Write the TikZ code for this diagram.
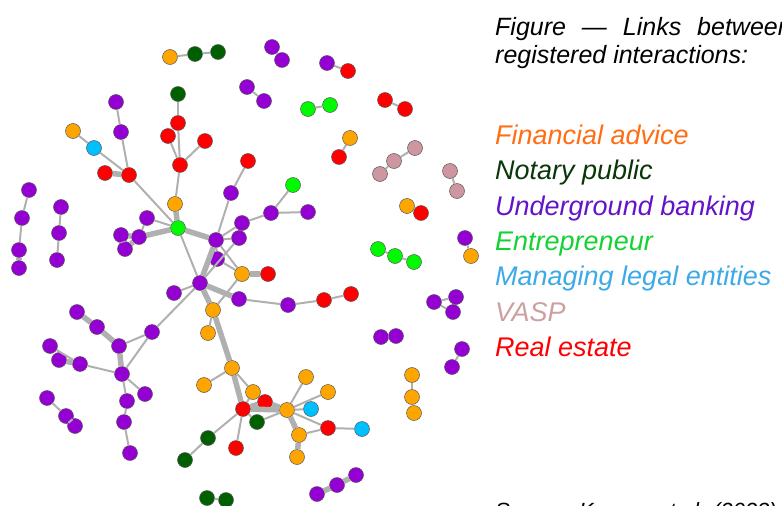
\documentclass[tikz,border=0pt]{standalone}
\usepackage{fontspec}
\usepackage{tikz}
\usetikzlibrary{shapes, positioning}
\newfontfamily\legendfont{Liberation Sans}

\definecolor{finOrange}{RGB}{255,165,0}
\definecolor{notGreen}{RGB}{0,95,0}
\definecolor{ubPurple}{RGB}{148,0,211}
\definecolor{entGreen}{RGB}{0,250,0}
\definecolor{manCyan}{RGB}{0,191,255}
\definecolor{vaspPink}{RGB}{205,150,160}
\definecolor{realRed}{RGB}{255,0,0}
\definecolor{finText}{RGB}{255,110,20}
\definecolor{notText}{RGB}{10,55,10}
\definecolor{ubText}{RGB}{100,20,200}
\definecolor{entText}{RGB}{20,210,50}
\definecolor{manText}{RGB}{60,170,230}
\definecolor{vaspText}{RGB}{205,160,160}
\definecolor{linkGray}{RGB}{176,176,176}

\begin{document}
\begin{tikzpicture}[x=1pt, y=-1pt,
    actor/.style={circle, draw=black!65, line width=0.5pt, minimum size=15pt, inner sep=0pt},
    fin/.style={actor, fill=finOrange},
    nota/.style={actor, fill=notGreen},
    ub/.style={actor, fill=ubPurple},
    ent/.style={actor, fill=entGreen},
    man/.style={actor, fill=manCyan},
    vasp/.style={actor, fill=vaspPink},
    real/.style={actor, fill=realRed},
    every edge/.style={draw=linkGray, line width=2pt},
    heavy/.style={line width=5.5pt},
    legend/.style={anchor=base west, inner sep=0pt, font=\legendfont\itshape\fontsize{27}{32}\selectfont}]
    \useasboundingbox (0,0) rectangle (782,506);

    % financial advice
    \node[fin] (Fin1)  at (170,57)  {};
    \node[fin] (Fin2)  at (350,138) {};
    \node[fin] (Fin3)  at (175,204) {};
    \node[fin] (Fin4)  at (407,206) {};
    \node[fin] (Fin5)  at (471,256) {};
    \node[fin] (Fin6)  at (242,274) {};
    \node[fin] (Fin7)  at (213,310) {};
    \node[fin] (Fin8)  at (208,333) {};
    \node[fin] (Fin9)  at (232,368) {};
    \node[fin] (Fin10) at (204,385) {};
    \node[fin] (Fin11) at (253,392) {};
    \node[fin] (Fin12) at (306,377) {};
    \node[fin] (Fin13) at (328,392) {};
    \node[fin] (Fin14) at (287,410) {};
    \node[fin] (Fin15) at (299,435) {};
    \node[fin] (Fin16) at (297,457) {};
    \node[fin] (Fin17) at (412,375) {};
    \node[fin] (Fin18) at (412,397) {};
    \node[fin] (Fin19) at (414,413) {};
    \node[fin] (Fin20) at (73,131)  {};

    % notary public
    \node[nota] (Not1) at (195,54)  {};
    \node[nota] (Not2) at (218,52)  {};
    \node[nota] (Not3) at (178,94)  {};
    \node[nota] (Not4) at (257,422) {};
    \node[nota] (Not5) at (208,438) {};
    \node[nota] (Not6) at (185,460) {};
    \node[nota] (Not7) at (207,498) {};
    \node[nota] (Not8) at (226,500) {};

    % underground banking
    \node[ub] (Und1)  at (272,47)  {};
    \node[ub] (Und2)  at (282,60)  {};
    \node[ub] (Und3)  at (327,63)  {};
    \node[ub] (Und4)  at (247,87)  {};
    \node[ub] (Und5)  at (264,101) {};
    \node[ub] (Und6)  at (116,102) {};
    \node[ub] (Und7)  at (121,132) {};
    \node[ub] (Und8)  at (29,190)  {};
    \node[ub] (Und9)  at (22,218)  {};
    \node[ub] (Und10) at (19,250)  {};
    \node[ub] (Und11) at (19,268)  {};
    \node[ub] (Und12) at (61,207)  {};
    \node[ub] (Und13) at (59,233)  {};
    \node[ub] (Und14) at (57,260)  {};
    \node[ub] (Und15) at (147,218) {};
    \node[ub] (Und16) at (121,235) {};
    \node[ub] (Und17) at (139,237) {};
    \node[ub] (Und18) at (125,249) {};
    \node[ub] (Und19) at (231,193) {};
    \node[ub] (Und20) at (242,223) {};
    \node[ub] (Und21) at (216,240) {};
    \node[ub] (Und22) at (239,238) {};
    \node[ub] (Und23) at (217,259) {};
    \node[ub] (Und24) at (200,283) {};
    \node[ub] (Und25) at (174,293) {};
    \node[ub] (Und26) at (239,299) {};
    \node[ub] (Und27) at (288,305) {};
    \node[ub] (Und28) at (271,213) {};
    \node[ub] (Und29) at (308,212) {};
    \node[ub] (Und30) at (465,238) {};
    \node[ub] (Und31) at (434,302) {};
    \node[ub] (Und32) at (456,297) {};
    \node[ub] (Und33) at (453,312) {};
    \node[ub] (Und34) at (381,337) {};
    \node[ub] (Und35) at (396,336) {};
    \node[ub] (Und36) at (462,349) {};
    \node[ub] (Und37) at (452,367) {};
    \node[ub] (Und38) at (77,312)  {};
    \node[ub] (Und39) at (97,327)  {};
    \node[ub] (Und40) at (152,332) {};
    \node[ub] (Und41) at (119,346) {};
    \node[ub] (Und42) at (50,346)  {};
    \node[ub] (Und43) at (59,360)  {};
    \node[ub] (Und44) at (80,364)  {};
    \node[ub] (Und45) at (122,374) {};
    \node[ub] (Und46) at (145,394) {};
    \node[ub] (Und47) at (127,401) {};
    \node[ub] (Und48) at (124,422) {};
    \node[ub] (Und49) at (130,453) {};
    \node[ub] (Und50) at (47,398)  {};
    \node[ub] (Und51) at (66,416)  {};
    \node[ub] (Und52) at (75,426)  {};
    \node[ub] (Und53) at (356,475) {};
    \node[ub] (Und54) at (337,485) {};
    \node[ub] (Und55) at (317,494) {};

    % entrepreneur
    \node[ent] (Ent1) at (308,109) {};
    \node[ent] (Ent2) at (330,105) {};
    \node[ent] (Ent3) at (178,228) {};
    \node[ent] (Ent4) at (293,185) {};
    \node[ent] (Ent5) at (378,249) {};
    \node[ent] (Ent6) at (395,256) {};
    \node[ent] (Ent7) at (414,262) {};

    % managing legal entities
    \node[man] (Man1) at (94,148)  {};
    \node[man] (Man2) at (311,409) {};
    \node[man] (Man3) at (362,429) {};

    % vasp
    \node[vasp] (Vasp1) at (415,148) {};
    \node[vasp] (Vasp2) at (394,161) {};
    \node[vasp] (Vasp3) at (380,174) {};
    \node[vasp] (Vasp4) at (450,171) {};
    \node[vasp] (Vasp5) at (457,191) {};

    % real estate
    \node[real] (Real1)  at (348,71)  {};
    \node[real] (Real2)  at (385,100) {};
    \node[real] (Real3)  at (405,109) {};
    \node[real] (Real4)  at (178,123) {};
    \node[real] (Real5)  at (168,136) {};
    \node[real] (Real6)  at (205,141) {};
    \node[real] (Real7)  at (180,165) {};
    \node[real] (Real8)  at (105,173) {};
    \node[real] (Real9)  at (129,175) {};
    \node[real] (Real10) at (248,161) {};
    \node[real] (Real11) at (339,157) {};
    \node[real] (Real12) at (421,213) {};
    \node[real] (Real13) at (268,274) {};
    \node[real] (Real14) at (324,300) {};
    \node[real] (Real15) at (351,294) {};
    \node[real] (Real16) at (243,409) {};
    \node[real] (Real17) at (265,402) {};
    \node[real] (Real18) at (328,428) {};
    \node[real] (Real19) at (236,448) {};

    % small components
    \path
    (Fin1)  edge (Not1)
    (Not1)  edge (Not2)
    (Und1)  edge (Und2)
    (Und3)  edge (Real1)
    (Und4)  edge (Und5)
    (Ent1)  edge (Ent2)
    (Real2) edge (Real3)
    (Fin2)  edge (Real11)
    (Vasp1) edge (Vasp2)
    (Vasp2) edge (Vasp3)
    (Vasp4) edge (Vasp5)
    (Und8)  edge (Und9)
    (Und9)  edge (Und10)
    (Und10) edge [heavy] (Und11)
    (Und12) edge (Und13)
    (Und13) edge (Und14)
    (Fin5)  edge (Und30)
    (Fin4)  edge (Real12)
    (Ent5)  edge (Ent6)
    (Ent6)  edge (Ent7)
    (Und31) edge (Und32)
            edge (Und33)
    (Und34) edge (Und35)
    (Und36) edge (Und37)
    (Fin17) edge (Fin18)
    (Fin18) edge (Fin19)
    (Und53) edge [heavy] (Und54)
    (Und54) edge [heavy] (Und55)
    (Not7)  edge (Not8)
    (Und50) edge (Und51)
    (Und51) edge [heavy] (Und52);

    % main component
    \path
    (Not3)  edge (Real4)
    (Real4) edge (Real7)
    (Real5) edge (Real7)
    (Real6) edge (Real7)
    (Real7) edge (Fin3)
    (Und6)  edge (Und7)
    (Und7)  edge (Real9)
    (Fin20) edge (Man1)
    (Man1)  edge (Real9)
    (Real8) edge [heavy] (Real9)
    (Real9) edge (Ent3)
    (Ent3)
    edge [heavy] (Fin3)
    edge (Und15)
    edge [heavy] (Und17)
    edge [heavy] (Und21)
    edge (Und24)
    (Und16) edge [heavy] (Und17)
    (Und18) edge [heavy] (Und17)
    (Und15) edge (Und17)
    (Und16) edge [heavy] (Und18)
    (Real10) edge (Und19)
    (Und19) edge (Und21)
    (Ent4)  edge (Und28)
    (Und28) edge (Und29)
            edge (Und20)
    (Und20) edge (Und21)
    (Und21)
    edge (Und22)
    edge (Und23)
    edge (Fin6)
    edge [heavy] (Und24)
    (Und22) edge (Und24)
    (Und23) edge (Fin6)
    (Fin6)  edge [heavy] (Real13)
            edge (Fin7)
    (Und24)
    edge [heavy] (Und26)
    edge (Und25)
    edge (Und40)
    edge [heavy] (Fin7)
    (Und26) edge (Und27)
    (Und27) edge (Real14)
    (Real14) edge (Real15)
    (Und38) edge [heavy] (Und39)
    (Und39) edge [heavy] (Und41)
    (Und41) edge (Und40)
            edge [heavy] (Und45)
    (Und40) edge (Und45)
    (Und42) edge (Und44)
    (Und43) edge [heavy] (Und44)
    (Und44) edge (Und45)
    (Und45)
    edge (Und46)
    edge (Und47)
    (Und47) edge (Und48)
    (Und48) edge (Und49)
    (Fin7)  edge (Fin8)
            edge [heavy] (Fin9)
    (Fin9)
    edge (Fin10)
    edge (Fin11)
    edge [heavy] (Real16)
    (Fin11) edge (Real16)
    (Real16)
    edge [heavy] (Real17)
    edge [heavy] (Fin14)
    edge (Not4)
    edge (Not5)
    edge (Real19)
    (Real17) edge [heavy] (Fin14)
    (Not4)  edge (Fin14)
    (Fin14)
    edge (Fin12)
    edge (Fin13)
    edge (Man2)
    edge (Real18)
    edge [heavy] (Fin15)
    (Fin15) edge (Real18)
            edge [heavy] (Fin16)
    (Real18) edge (Man3)
    (Not5)  edge (Not6);

    % caption and legend
    \node[legend, font=\legendfont\itshape\fontsize{25}{30}\selectfont] (Title1) at (495,35)
        {Figure\hspace{9pt} —\hspace{9pt} Links\hspace{9pt} between};
    \node[legend, font=\legendfont\itshape\fontsize{25}{30}\selectfont] (Title2) at (495,63)
        {registered interactions:};
    \node[legend, text=finText]  (LegFin)  at (495,144) {Financial advice};
    \node[legend, text=notText]  (LegNot)  at (495,179) {Notary public};
    \node[legend, text=ubText]   (LegUnd)  at (495,215) {Underground banking};
    \node[legend, text=entText]  (LegEnt)  at (495,250) {Entrepreneur};
    \node[legend, text=manText]  (LegMan)  at (495,285) {Managing legal entities};
    \node[legend, text=vaspText] (LegVasp) at (495,321) {VASP};
    \node[legend, text=realRed]  (LegReal) at (495,356) {Real estate};
    \node[legend, font=\legendfont\itshape\fontsize{22}{26}\selectfont] (Source) at (495,518)
        {Source: Kramer et al. (2023)};

\end{tikzpicture}
\end{document}
